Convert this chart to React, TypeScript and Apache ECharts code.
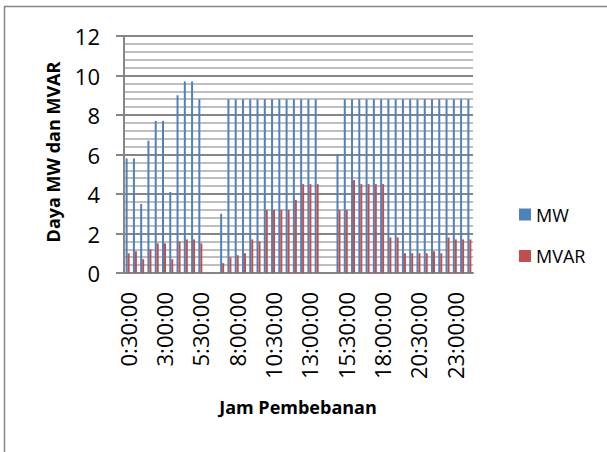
import React, { useEffect, useRef } from "react";
import * as echarts from "echarts";

const categories = [
  "0:30:00", "1:00:00", "1:30:00", "2:00:00", "2:30:00", "3:00:00", "3:30:00", "4:00:00",
  "4:30:00", "5:00:00", "5:30:00", "6:00:00", "6:30:00", "7:00:00", "7:30:00", "8:00:00",
  "8:30:00", "9:00:00", "9:30:00", "10:00:00", "10:30:00", "11:00:00", "11:30:00", "12:00:00",
  "12:30:00", "13:00:00", "13:30:00", "14:00:00", "14:30:00", "15:00:00", "15:30:00", "16:00:00",
  "16:30:00", "17:00:00", "17:30:00", "18:00:00", "18:30:00", "19:00:00", "19:30:00", "20:00:00",
  "20:30:00", "21:00:00", "21:30:00", "22:00:00", "22:30:00", "23:00:00", "23:30:00", "0:00:00",
];

const mwValues = [
  5.8, 5.8, 3.5, 6.7, 7.7, 7.7, 4.1, 9.0, 9.7, 9.7, 8.8, null, null, 3.0, 8.8, 8.8,
  8.8, 8.8, 8.8, 8.8, 8.8, 8.8, 8.8, 8.8, 8.8, 8.8, 8.8, null, null, 6.0, 8.8, 8.8,
  8.8, 8.8, 8.8, 8.8, 8.8, 8.8, 8.8, 8.8, 8.8, 8.8, 8.8, 8.8, 8.8, 8.8, 8.8, 8.8,
];

const mvarValues = [
  1.0, 1.1, 0.7, 1.2, 1.5, 1.5, 0.7, 1.6, 1.7, 1.7, 1.5, null, null, 0.5, 0.8, 0.9,
  1.0, 1.7, 1.6, 3.2, 3.2, 3.2, 3.2, 3.7, 4.5, 4.5, 4.5, null, null, 3.2, 3.2, 4.7,
  4.5, 4.5, 4.5, 4.5, 1.8, 1.8, 1.0, 1.0, 1.0, 1.0, 1.1, 1.0, 1.8, 1.7, 1.7, 1.7,
];

const seriesNames = ["MW", "MVAR"];
const yAxisTitle = "Daya MW dan MVAR";
const xAxisTitle = "Jam Pembebanan";

const FONT = "'Open Sans', sans-serif";

export default function App() {
  const ref = useRef<HTMLDivElement>(null);

  useEffect(() => {
    if (!ref.current) return;
    const chart = echarts.init(ref.current, null, { renderer: "svg" });
    chart.setOption({
      animation: false,
      backgroundColor: "#ffffff",
      textStyle: { fontFamily: FONT },
      grid: { left: 124, top: 36, width: 349, height: 237, containLabel: false },
      legend: {
        orient: "vertical",
        left: 514,
        top: 199.5,
        itemWidth: 12,
        itemHeight: 12,
        itemGap: 21.5,
        icon: "rect",
        textStyle: { fontSize: 18, color: "#000", fontFamily: FONT, lineHeight: 20 },
        data: seriesNames,
      },
      xAxis: {
        type: "category",
        data: categories,
        boundaryGap: true,
        axisLine: { show: true, lineStyle: { color: "#868686", width: 2 } },
        axisTick: { show: false },
        axisLabel: {
          interval: 4,
          rotate: 90,
          fontSize: 22,
          color: "#000",
          margin: 19,
          fontFamily: FONT,
        },
        splitLine: { show: false },
      },
      yAxis: {
        type: "value",
        min: 0,
        max: 12,
        interval: 2,
        axisLine: { show: true, lineStyle: { color: "#868686", width: 2 } },
        axisTick: { show: true, inside: false, length: 8, lineStyle: { color: "#868686", width: 2 } },
        axisLabel: { fontSize: 22, color: "#000", margin: 24, fontFamily: FONT },
        splitLine: { show: true, lineStyle: { color: "#868686", width: 2 } },
        minorTick: { show: false, splitNumber: 5 },
        minorSplitLine: { show: true, lineStyle: { color: "#bfbfbf", width: 2 } },
      },
      graphic: [
        {
          type: "rect",
          shape: { x: 4.5, y: 6.5, width: 800, height: 800 },
          style: { fill: "none", stroke: "#868686", lineWidth: 1.5 },
          silent: true,
        },
        {
          type: "text",
          x: 53,
          y: 152,
          rotation: Math.PI / 2,
          style: {
            text: yAxisTitle,
            fontSize: 18,
            fontWeight: "bold",
            fontFamily: FONT,
            fill: "#000",
            align: "center",
            verticalAlign: "middle",
          },
        },
        {
          type: "text",
          x: 298,
          y: 407,
          style: {
            text: xAxisTitle,
            fontSize: 18,
            fontWeight: "bold",
            fontFamily: FONT,
            fill: "#000",
            align: "center",
            verticalAlign: "middle",
          },
        },
      ],
      series: [
        {
          name: seriesNames[0],
          type: "bar",
          data: mwValues,
          barWidth: 2,
          barGap: "0%",
          itemStyle: { color: "#4F81BD" },
        },
        {
          name: seriesNames[1],
          type: "bar",
          data: mvarValues,
          barWidth: 2,
          barGap: "0%",
          itemStyle: { color: "#C0504D" },
        },
      ],
    });
    return () => chart.dispose();
  }, []);

  return (
    <div
      ref={ref}
      style={{ position: "fixed", left: 0, top: 0, width: 607, height: 452 }}
    />
  );
}
